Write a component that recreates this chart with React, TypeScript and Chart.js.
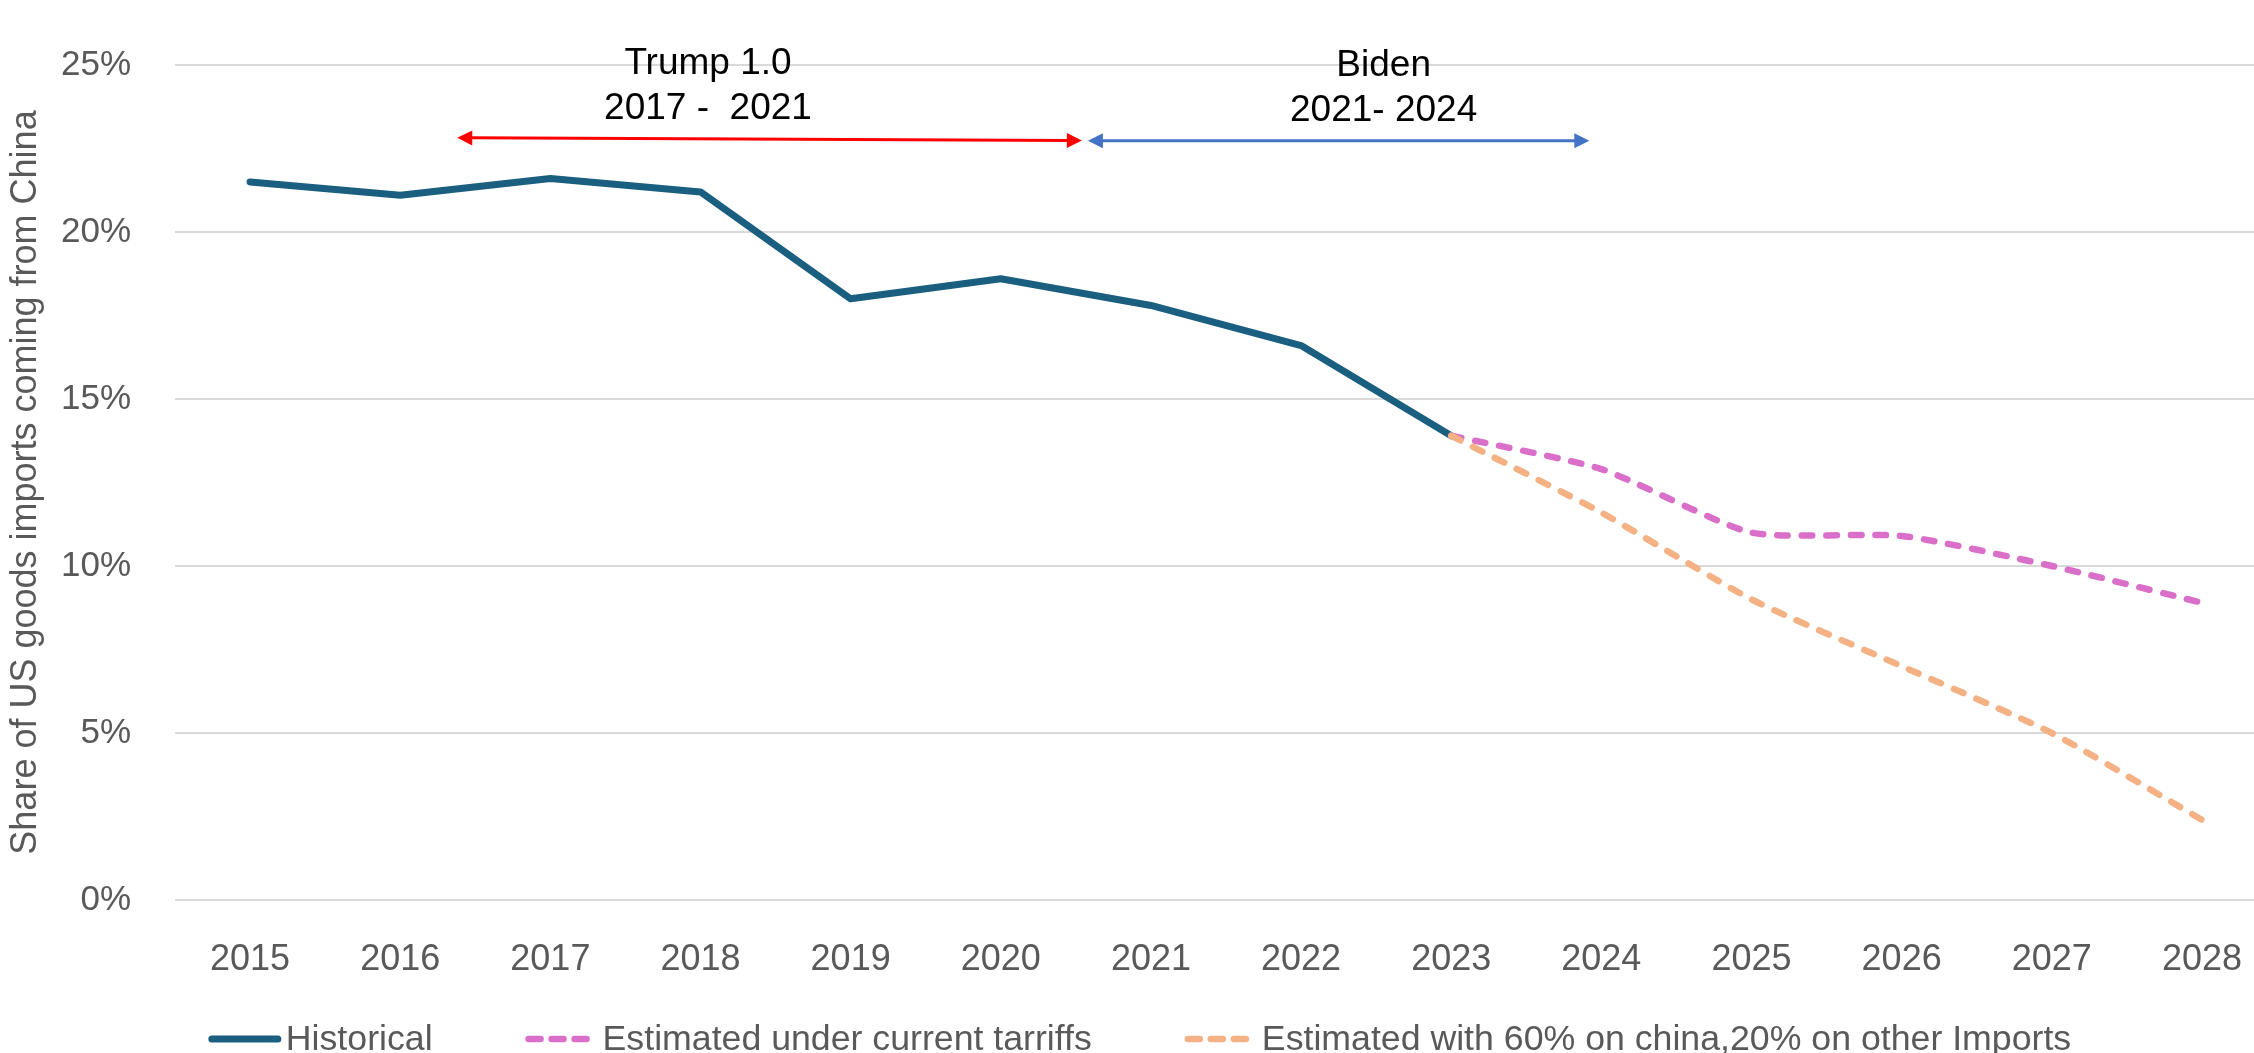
import React, { useEffect, useRef } from 'react';
import { Chart, registerables } from 'chart.js';

Chart.register(...registerables);

const FONT = "'Liberation Sans', Arial, Helvetica, sans-serif";
const AXIS_GREY = '#595959';

// Years on the category axis
const years = ['2015', '2016', '2017', '2018', '2019', '2020', '2021', '2022', '2023', '2024', '2025', '2026', '2027', '2028'];

// Share of US goods imports coming from China, in %
const historical = [21.5, 21.1, 21.6, 21.2, 18.0, 18.6, 17.8, 16.6, 13.9, null, null, null, null, null];
const currentTariffs = [null, null, null, null, null, null, null, null, 13.9, 12.9, 11.0, 10.9, 10.0, 8.9];
const highTariffs = [null, null, null, null, null, null, null, null, 13.9, 11.6, 9.0, 7.0, 5.0, 2.4];

const seriesNames = ['Historical', 'Estimated under current tarriffs', 'Estimated with 60% on china,20% on other Imports'];

// Y axis
const yMin = 0;
const yMax = 25;
const yStep = 5;
const yTitle = 'Share of US goods imports coming from China';

// Presidential terms shown as arrows above the lines
const termLines = [['Trump 1.0', '2017 -  2021'], ['Biden', '2021- 2024']];
const termLabelYear = [2018.05, 2022.55];
const termLabelLevel = [24.74, 24.67];
const termStartYear = [2016.38, 2020.58];
const termEndYear = [2020.54, 2023.92];
const termStartLevel = [22.82, 22.73];
const termEndLevel = [22.74, 22.73];
const termColors = ['#FF0000', '#4472C4'];

const firstYear = Number(years[0]);

function drawArrowHead(ctx: CanvasRenderingContext2D, tipX: number, tipY: number, fromX: number, fromY: number, len: number, half: number) {
  const ang = Math.atan2(tipY - fromY, tipX - fromX);
  ctx.beginPath();
  ctx.moveTo(tipX, tipY);
  ctx.lineTo(tipX - len * Math.cos(ang) + half * Math.sin(ang), tipY - len * Math.sin(ang) - half * Math.cos(ang));
  ctx.lineTo(tipX - len * Math.cos(ang) - half * Math.sin(ang), tipY - len * Math.sin(ang) + half * Math.cos(ang));
  ctx.closePath();
  ctx.fill();
}

// Term arrows and their captions, placed on the chart's own scales
const termsPlugin = {
  id: 'terms',
  afterDatasetsDraw(chart: any) {
    const { ctx } = chart;
    const xs = chart.scales.x;
    const ys = chart.scales.y;
    const px = (year: number) => xs.getPixelForValue(year - firstYear);
    ctx.save();
    termLines.forEach((lines, i) => {
      const color = termColors[i];
      const x1 = px(termStartYear[i]);
      const x2 = px(termEndYear[i]);
      const y1 = ys.getPixelForValue(termStartLevel[i]);
      const y2 = ys.getPixelForValue(termEndLevel[i]);
      const head = 15;
      const half = 7.5;
      const len = Math.hypot(x2 - x1, y2 - y1);
      const ux = (x2 - x1) / len;
      const uy = (y2 - y1) / len;
      ctx.strokeStyle = color;
      ctx.fillStyle = color;
      ctx.lineWidth = 3;
      ctx.beginPath();
      ctx.moveTo(x1 + ux * head * 0.8, y1 + uy * head * 0.8);
      ctx.lineTo(x2 - ux * head * 0.8, y2 - uy * head * 0.8);
      ctx.stroke();
      drawArrowHead(ctx, x1, y1, x2, y2, head, half);
      drawArrowHead(ctx, x2, y2, x1, y1, head, half);

      ctx.fillStyle = '#000000';
      ctx.font = `37px ${FONT}`;
      ctx.textAlign = 'center';
      ctx.textBaseline = 'alphabetic';
      const cx = px(termLabelYear[i]);
      const by = ys.getPixelForValue(termLabelLevel[i]);
      lines.forEach((t, k) => ctx.fillText(t, cx, by + k * 45));
    });
    ctx.restore();
  },
};

// Legend row under the axis: a line sample followed by the series name
const legendPlugin = {
  id: 'bottomLegend',
  afterDraw(chart: any) {
    const { ctx, chartArea } = chart;
    const sets = chart.data.datasets;
    ctx.save();
    ctx.font = `35.7px ${FONT}`;
    const sample = 72;
    const gapText = 5;
    const gapItem = 93;
    const widths = sets.map((d: any) => sample + gapText + ctx.measureText(d.label).width);
    const total = widths.reduce((a: number, b: number) => a + b, 0) + gapItem * (sets.length - 1);
    let x = chart.width / 2 - total / 2;
    const lineY = chartArea.bottom + 139;
    const textY = chartArea.bottom + 150;
    sets.forEach((d: any, i: number) => {
      ctx.strokeStyle = d.borderColor;
      ctx.lineWidth = d.borderWidth;
      ctx.lineCap = 'round';
      ctx.setLineDash(d.borderDash && d.borderDash.length ? [12, 11] : []);
      ctx.beginPath();
      ctx.moveTo(x + 3, lineY);
      ctx.lineTo(x + sample - 3, lineY);
      ctx.stroke();
      ctx.setLineDash([]);
      ctx.fillStyle = AXIS_GREY;
      ctx.textAlign = 'left';
      ctx.textBaseline = 'alphabetic';
      ctx.fillText(d.label, x + sample + gapText, textY);
      x += widths[i] + gapItem;
    });
    ctx.restore();
  },
};

export default function App() {
  const ref = useRef<HTMLCanvasElement>(null);

  useEffect(() => {
    const canvas = ref.current;
    if (!canvas) return;
    const chart = new Chart(canvas, {
      type: 'line',
      data: {
        labels: years,
        datasets: [
          {
            label: seriesNames[0],
            data: historical,
            borderColor: '#1A5E80',
            backgroundColor: '#1A5E80',
            borderWidth: 7,
            borderCapStyle: 'round',
            borderJoinStyle: 'round',
            pointRadius: 0,
            tension: 0,
            order: 2,
          },
          {
            label: seriesNames[1],
            data: currentTariffs,
            borderColor: '#D96FC9',
            backgroundColor: '#D96FC9',
            borderWidth: 6.5,
            borderDash: [10.5, 14],
            borderCapStyle: 'round',
            borderJoinStyle: 'round',
            pointRadius: 0,
            tension: 0.2,
            order: 1,
          },
          {
            label: seriesNames[2],
            data: highTariffs,
            borderColor: '#F4B183',
            backgroundColor: '#F4B183',
            borderWidth: 6.5,
            borderDash: [10.5, 14],
            borderCapStyle: 'round',
            borderJoinStyle: 'round',
            pointRadius: 0,
            tension: 0.2,
            order: 0,
          },
        ],
      },
      options: {
        responsive: false,
        animation: false,
        devicePixelRatio: 1,
        layout: { padding: { left: 0, right: 1, top: 58, bottom: 0 } },
        plugins: {
          legend: { display: false },
          tooltip: { enabled: false },
        },
        scales: {
          x: {
            offset: true,
            grid: { display: false, drawTicks: false },
            border: { display: false },
            ticks: {
              color: AXIS_GREY,
              font: { family: FONT, size: 36 },
              padding: 38,
              autoSkip: false,
              maxRotation: 0,
            },
            afterFit: (s: any) => {
              s.height = 153;
            },
          },
          y: {
            min: yMin,
            max: yMax,
            grid: { color: '#D9D9D9', lineWidth: 2, drawTicks: false },
            border: { display: false },
            ticks: {
              stepSize: yStep,
              color: AXIS_GREY,
              font: { family: FONT, size: 35 },
              padding: 44,
              callback: (v: any) => `${v}%`,
            },
            title: {
              display: true,
              text: yTitle,
              color: AXIS_GREY,
              font: { family: FONT, size: 36 },
              padding: { top: 4, bottom: 0 },
            },
            afterFit: (s: any) => {
              s.width = 175;
            },
          },
        },
      },
      plugins: [termsPlugin, legendPlugin],
    });
    return () => chart.destroy();
  }, []);

  return (
    <div
      style={{
        position: 'absolute',
        left: 0,
        top: 0,
        width: 2254,
        height: 1053,
        overflow: 'hidden',
        background: '#ffffff',
      }}
    >
      <canvas ref={ref} width={2280} height={1053} style={{ display: 'block', width: 2280, height: 1053 }} />
    </div>
  );
}
